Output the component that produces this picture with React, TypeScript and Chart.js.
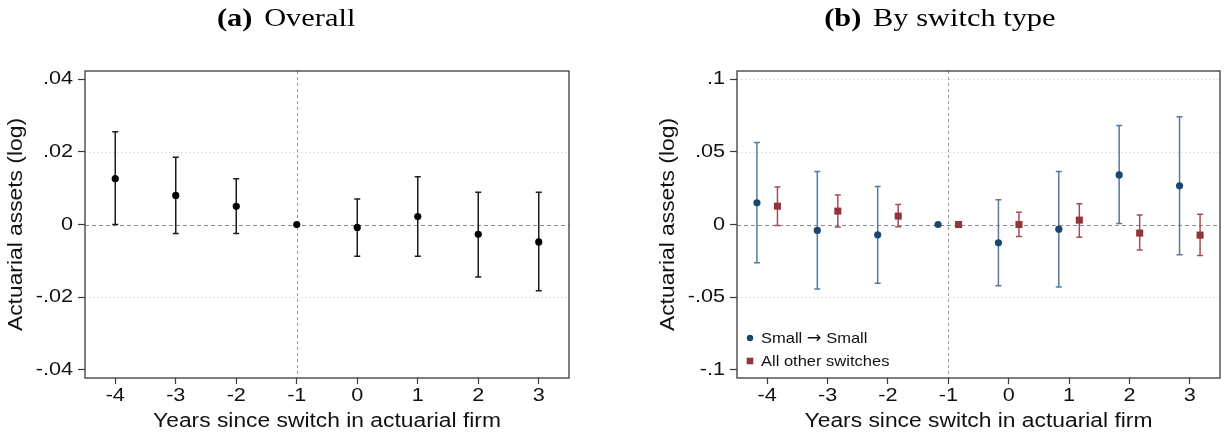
import { useEffect, useRef } from "react";
import { Chart, registerables } from "chart.js";

Chart.register(...registerables);

// Event-time axis (years relative to the switch)
const years = [-4, -3, -2, -1, 0, 1, 2, 3];

// Panel (a): pooled estimates with 95% confidence bounds (-1 is the omitted year)
const overallCoef = [0.0126, 0.008, 0.005, 0, -0.0008, 0.0022, -0.0027, -0.0048];
const overallLo = [0.0, -0.0025, -0.0025, null, -0.0087, -0.0087, -0.0144, -0.0182];
const overallHi = [0.0255, 0.0185, 0.0126, null, 0.007, 0.0131, 0.0089, 0.0089];

// Panel (b): estimates split by switch type
const smallCoef = [0.0149, -0.0041, -0.0071, 0, -0.0126, -0.0032, 0.0341, 0.0266];
const smallLo = [-0.0263, -0.0444, -0.0403, null, -0.0421, -0.043, 0.0007, -0.0208];
const smallHi = [0.0564, 0.0364, 0.0261, null, 0.017, 0.0364, 0.068, 0.074];
const otherCoef = [0.0126, 0.0092, 0.0058, 0, 0, 0.003, -0.0059, -0.0073];
const otherLo = [-0.0007, -0.0018, -0.0016, null, -0.0082, -0.0087, -0.0176, -0.0213];
const otherHi = [0.0257, 0.0202, 0.0137, null, 0.0085, 0.0142, 0.0065, 0.0071];

// Axis ticks and labels
const overallTicks = [-0.04, -0.02, 0, 0.02, 0.04];
const overallTickLabels = ["-.04", "-.02", "0", ".02", ".04"];
const overallGrid = [-0.02, 0.02];
const typeTicks = [-0.1, -0.05, 0, 0.05, 0.1];
const typeTickLabels = ["-.1", "-.05", "0", ".05", ".1"];
const typeGrid = [-0.05, 0.05, 0.1];

const seriesNames = ["Small \u2192 Small", "All other switches"];
const xTitle = "Years since switch in actuarial firm";
const yTitle = "Actuarial assets (log)";
const eventYear = -1;

const SANS = "'Liberation Sans', Arial, sans-serif";
const SERIF = "'Liberation Serif', 'Times New Roman', serif";
const ARROW_FONT = "'DejaVu Sans', sans-serif";

// Text is set slightly wide, as in the original graph export
const TEXT_STRETCH = 1.17;
const LEGEND_STRETCH = 1.1;

const CANVAS_W = 573;
const CANVAS_H = 436;
const SHIFT = 0.17; // horizontal dodge between the two series in panel (b)

type Bars = { dx: number; lo: (number | null)[]; hi: (number | null)[]; color: string };

type PanelSpec = {
  yMax: number;
  ticks: number[];
  tickLabels: string[];
  grid: number[];
  series: {
    label: string;
    coef: number[];
    dx: number;
    color: string;
    style: "circle" | "rect";
    radius: number;
  }[];
  bars: Bars[];
  legend: boolean;
};

// Wrap fillText so every label is drawn with a horizontal stretch,
// anchored at its own position (alignment is preserved).
function widenText(ctx: any) {
  if (ctx.__widened) return;
  const orig = ctx.fillText.bind(ctx);
  ctx.__stretch = TEXT_STRETCH;
  ctx.fillText = (text: string, x: number, y: number) => {
    ctx.save();
    ctx.translate(x, y);
    ctx.scale(ctx.__stretch, 1);
    orig(text, 0, 0);
    ctx.restore();
  };
  ctx.__widened = true;
}

function buildChart(canvas: HTMLCanvasElement, spec: PanelSpec) {
  const refLines = {
    id: "refLines",
    beforeDraw(chart: any) {
      widenText(chart.ctx);
    },
    beforeDatasetsDraw(chart: any) {
      const { ctx, chartArea: a } = chart;
      const xs = chart.scales.x;
      const ys = chart.scales.y;
      ctx.save();
      ctx.beginPath();
      ctx.rect(a.left, a.top, a.right - a.left, a.bottom - a.top);
      ctx.clip();
      // dotted horizontal grid
      ctx.strokeStyle = "#d8d8d8";
      ctx.lineWidth = 1;
      ctx.setLineDash([1.5, 2.5]);
      for (const v of spec.grid) {
        const y = Math.round(ys.getPixelForValue(v)) + 0.5;
        ctx.beginPath();
        ctx.moveTo(a.left, y);
        ctx.lineTo(a.right, y);
        ctx.stroke();
      }
      // dashed zero line
      ctx.strokeStyle = "#8a8a8a";
      ctx.setLineDash([4, 3]);
      const y0 = Math.round(ys.getPixelForValue(0)) + 0.5;
      ctx.beginPath();
      ctx.moveTo(a.left, y0);
      ctx.lineTo(a.right, y0);
      ctx.stroke();
      // dashed line at the omitted year
      ctx.strokeStyle = "#9a9a9a";
      ctx.setLineDash([3, 3]);
      const xv = Math.round(xs.getPixelForValue(eventYear)) + 0.5;
      ctx.beginPath();
      ctx.moveTo(xv, a.top);
      ctx.lineTo(xv, a.bottom);
      ctx.stroke();
      ctx.setLineDash([]);
      // confidence intervals
      for (const b of spec.bars) {
        ctx.strokeStyle = b.color;
        ctx.lineWidth = 1.5;
        years.forEach((yr, i) => {
          const lo = b.lo[i];
          const hi = b.hi[i];
          if (lo === null || hi === null) return;
          const x = xs.getPixelForValue(yr + b.dx);
          const yl = ys.getPixelForValue(lo);
          const yh = ys.getPixelForValue(hi);
          ctx.beginPath();
          ctx.moveTo(x, yl);
          ctx.lineTo(x, yh);
          ctx.moveTo(x - 3, yl);
          ctx.lineTo(x + 3, yl);
          ctx.moveTo(x - 3, yh);
          ctx.lineTo(x + 3, yh);
          ctx.stroke();
        });
      }
      ctx.restore();
    },
    afterDraw(chart: any) {
      const { ctx, chartArea: a } = chart;
      ctx.save();
      ctx.strokeStyle = "#3a3a3a";
      ctx.lineWidth = 1.3;
      ctx.strokeRect(a.left, a.top, a.right - a.left, a.bottom - a.top);
      if (spec.legend) {
        const prevStretch = ctx.__stretch;
        ctx.__stretch = LEGEND_STRETCH;
        ctx.textBaseline = "middle";
        ctx.textAlign = "left";
        spec.series.forEach((s, i) => {
          const cx = a.left + 13;
          const cy = a.bottom - 40 + i * 23;
          ctx.fillStyle = s.color;
          if (s.style === "circle") {
            ctx.beginPath();
            ctx.arc(cx, cy, 3.2, 0, Math.PI * 2);
            ctx.fill();
          } else {
            ctx.fillRect(cx - 3.3, cy - 3.3, 6.6, 6.6);
          }
          ctx.fillStyle = "#111";
          // label pieces; the arrow uses a font with a long arrow glyph
          const parts = s.label.split("\u2192");
          let tx = cx + 11;
          parts.forEach((p, j) => {
            ctx.font = `15px ${SANS}`;
            ctx.fillText(p, tx, cy + 1);
            tx += ctx.measureText(p).width * LEGEND_STRETCH;
            if (j < parts.length - 1) {
              ctx.font = `16px ${ARROW_FONT}`;
              ctx.fillText("\u2192", tx, cy + 1);
              tx += ctx.measureText("\u2192").width * LEGEND_STRETCH;
            }
          });
        });
        ctx.__stretch = prevStretch;
      }
      ctx.restore();
    },
  };

  return new Chart(canvas, {
    type: "scatter",
    data: {
      datasets: spec.series.map((s) => ({
        label: s.label,
        data: years.map((yr, i) => ({ x: yr + s.dx, y: s.coef[i] })),
        pointStyle: s.style,
        pointRadius: s.radius,
        pointBackgroundColor: s.color,
        pointBorderColor: s.color,
        pointBorderWidth: 0,
        showLine: false,
      })),
    },
    options: {
      responsive: false,
      animation: false,
      devicePixelRatio: 1,
      layout: { padding: { top: 71, right: 1, left: 0, bottom: 0 } },
      plugins: { legend: { display: false }, tooltip: { enabled: false } },
      scales: {
        x: {
          type: "linear",
          min: -4.5,
          max: 3.5,
          afterBuildTicks: (scale: any) => {
            scale.ticks = years.map((v) => ({ value: v }));
          },
          afterFit: (scale: any) => {
            scale.height = 58;
          },
          ticks: {
            callback: (v: any) => String(v),
            font: { family: SANS, size: 18.5 },
            color: "#111",
            padding: 1,
            maxRotation: 0,
            autoSkip: false,
          },
          grid: { drawOnChartArea: false, drawTicks: true, tickLength: 6, tickColor: "#3a3a3a", tickWidth: 1.2 },
          border: { display: false },
          title: {
            display: true,
            text: xTitle,
            font: { family: SANS, size: 19.5 },
            color: "#111",
            padding: { top: 0, bottom: 3 },
          },
        },
        y: {
          type: "linear",
          min: -spec.yMax,
          max: spec.yMax,
          afterBuildTicks: (scale: any) => {
            scale.ticks = spec.ticks.map((v) => ({ value: v }));
          },
          afterFit: (scale: any) => {
            scale.width = 85;
          },
          ticks: {
            callback: (_v: any, i: number) => spec.tickLabels[i],
            font: { family: SANS, size: 18.5 },
            color: "#111",
            padding: 5,
            autoSkip: false,
          },
          grid: { drawOnChartArea: false, drawTicks: true, tickLength: 7, tickColor: "#3a3a3a", tickWidth: 1.2 },
          border: { display: false },
          title: {
            display: true,
            text: yTitle,
            font: { family: SANS, size: 19.5 },
            color: "#111",
            padding: { top: 5, bottom: 0 },
          },
        },
      },
    },
    plugins: [refLines],
  } as any);
}

const overallSpec: PanelSpec = {
  yMax: 0.0422,
  ticks: overallTicks,
  tickLabels: overallTickLabels,
  grid: overallGrid,
  series: [{ label: "Overall", coef: overallCoef, dx: 0, color: "#000000", style: "circle", radius: 3.6 }],
  bars: [{ dx: 0, lo: overallLo, hi: overallHi, color: "#1c1c1c" }],
  legend: false,
};

const typeSpec: PanelSpec = {
  yMax: 0.1055,
  ticks: typeTicks,
  tickLabels: typeTickLabels,
  grid: typeGrid,
  series: [
    { label: seriesNames[0], coef: smallCoef, dx: -SHIFT, color: "#1a476f", style: "circle", radius: 3.6 },
    { label: seriesNames[1], coef: otherCoef, dx: SHIFT, color: "#90353b", style: "rect", radius: 5 },
  ],
  bars: [
    { dx: -SHIFT, lo: smallLo, hi: smallHi, color: "#56799d" },
    { dx: SHIFT, lo: otherLo, hi: otherHi, color: "#a84c54" },
  ],
  legend: true,
};

function Panel({ spec, left }: { spec: PanelSpec; left: number }) {
  const ref = useRef<HTMLCanvasElement | null>(null);
  useEffect(() => {
    if (!ref.current) return;
    const chart = buildChart(ref.current, spec);
    return () => chart.destroy();
  }, [spec]);
  return (
    <canvas
      ref={ref}
      width={CANVAS_W}
      height={CANVAS_H}
      style={{ position: "absolute", left, top: 0, width: CANVAS_W, height: CANVAS_H }}
    />
  );
}

function Heading({ tag, text, center }: { tag: string; text: string; center: number }) {
  return (
    <div
      style={{
        position: "absolute",
        top: 3,
        left: center - 200,
        width: 400,
        textAlign: "center",
        fontFamily: SERIF,
        fontSize: 26,
        lineHeight: "30px",
        color: "#000",
        whiteSpace: "nowrap",
      }}
    >
      <span style={{ display: "inline-block", transform: `scaleX(${TEXT_STRETCH})` }}>
        <b>{tag}</b>
        <span style={{ marginLeft: 10 }}>{text}</span>
      </span>
    </div>
  );
}

export default function App() {
  return (
    <div
      style={{
        position: "absolute",
        left: 0,
        top: 0,
        width: 1225,
        height: 436,
        background: "#fff",
        overflow: "hidden",
      }}
    >
      <Panel spec={overallSpec} left={0} />
      <Panel spec={typeSpec} left={652} />
      <Heading tag="(a)" text="Overall" center={286} />
      <Heading tag="(b)" text="By switch type" center={940} />
    </div>
  );
}
